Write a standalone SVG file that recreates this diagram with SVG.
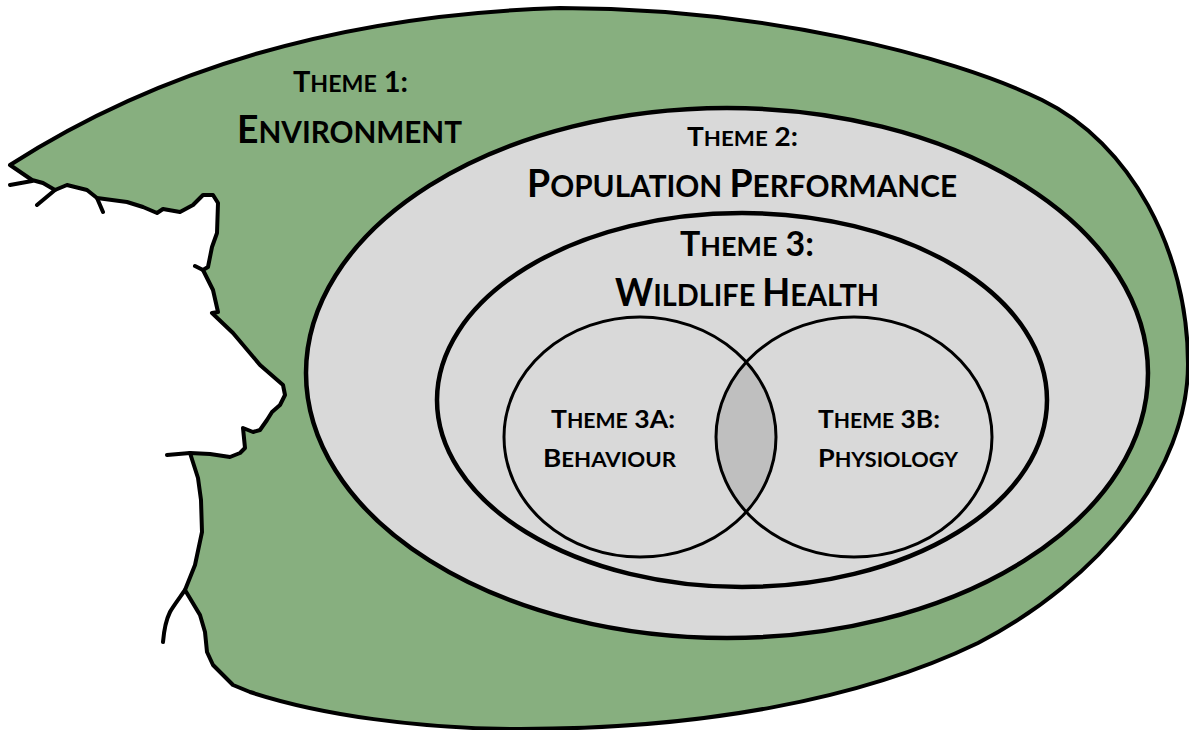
<svg xmlns="http://www.w3.org/2000/svg" width="1189" height="730" viewBox="0 0 1189 730">
<style>
.ln{fill:none;stroke:#000;stroke-linejoin:round;stroke-linecap:round}
text{font-family:Lato,"Open Sans","Liberation Sans",sans-serif;font-weight:700;fill:#000}
.gray{fill:#D9D9D9;stroke:#000}
</style>
<rect width="1189" height="730" fill="#fff"/>
<g id="theme1">
<path d="M10,165 C150,75 330,15 560,8 C760,8 950,55 1042,100 C1130,143 1188,250 1188,364 C1188,470 1100,580 978,643 C860,700 700,729 520,729 C420,729 320,715 250,692 L233,685 L213,665 L207,652 L205,632 L200,615 L185,590 L195,565 L202,532 L201,500 L198,478 L190,453 L210,454 L230,457 L240,453 L245,448 L243,428 L253,432 L260,430 L267,420 L272,412 L280,405 L285,395 L283,385 L260,365 L233,333 L212,313 L218,312 L213,290 L203,270 L208,267 L212,247 L217,233 L218,203 L213,195 L203,195 L193,205 L180,212 L163,209 L157,213 L143,207 L127,202 L97,198 L87,190 L67,185 L55,190 L43,183 L32,180 Z" fill="#87AF7F" stroke="#000" stroke-width="4" stroke-linejoin="round"/>
<path class="ln" stroke-width="4" d="M32,181 L10,185 M55,190 L37,205 M97,198 L103,212 M203,270 L195,266 M190,453 L167,455 M185,590 C178,600 172,608 170,612 C166,620 164,630 163,642"/>
<text x="293" y="92" textLength="115" lengthAdjust="spacingAndGlyphs"><tspan font-size="28">T</tspan><tspan font-size="22.4">HEME</tspan><tspan font-size="28"> 1:</tspan></text>
<text x="237" y="143" textLength="225" lengthAdjust="spacingAndGlyphs"><tspan font-size="39">E</tspan><tspan font-size="31">NVIRONMENT</tspan></text>
</g>
<g id="theme2">
<ellipse class="gray" cx="727" cy="373" rx="421" ry="265" stroke-width="4.5"/>
<text x="687" y="146" textLength="111" lengthAdjust="spacingAndGlyphs"><tspan font-size="27">T</tspan><tspan font-size="21.5">HEME</tspan><tspan font-size="27"> 2:</tspan></text>
<text x="527" y="197" textLength="430" lengthAdjust="spacingAndGlyphs"><tspan font-size="39">P</tspan><tspan font-size="31">OPULATION </tspan><tspan font-size="39">P</tspan><tspan font-size="31">ERFORMANCE</tspan></text>
</g>
<g id="theme3">
<ellipse class="gray" cx="742" cy="400" rx="305" ry="187" stroke-width="4.5"/>
<text x="680" y="256" textLength="134" lengthAdjust="spacingAndGlyphs"><tspan font-size="34">T</tspan><tspan font-size="27">HEME</tspan><tspan font-size="34"> 3:</tspan></text>
<text x="615" y="306" textLength="264" lengthAdjust="spacingAndGlyphs"><tspan font-size="39">W</tspan><tspan font-size="31">ILDLIFE </tspan><tspan font-size="39">H</tspan><tspan font-size="31">EALTH</tspan></text>
</g>
<g id="overlap">
<path d="M746,362 A136,120 0 0 1 746,512 A138,120 0 0 1 746,362 Z" fill="#BFBFBF"/>
</g>
<g id="theme3a">
<ellipse class="ln" cx="640" cy="437" rx="136" ry="120" stroke-width="3"/>
<text x="551" y="428" textLength="124" lengthAdjust="spacingAndGlyphs"><tspan font-size="25">T</tspan><tspan font-size="20">HEME</tspan><tspan font-size="25"> 3A:</tspan></text>
<text x="543" y="467" textLength="133" lengthAdjust="spacingAndGlyphs"><tspan font-size="25">B</tspan><tspan font-size="20">EHAVIOUR</tspan></text>
</g>
<g id="theme3b">
<ellipse class="ln" cx="854" cy="437" rx="138" ry="120" stroke-width="3"/>
<text x="818" y="428" textLength="122" lengthAdjust="spacingAndGlyphs"><tspan font-size="25">T</tspan><tspan font-size="20">HEME</tspan><tspan font-size="25"> 3B:</tspan></text>
<text x="818" y="467" textLength="140" lengthAdjust="spacingAndGlyphs"><tspan font-size="25">P</tspan><tspan font-size="20">HYSIOLOGY</tspan></text>
</g>
<g id="connectors"/>
</svg>
